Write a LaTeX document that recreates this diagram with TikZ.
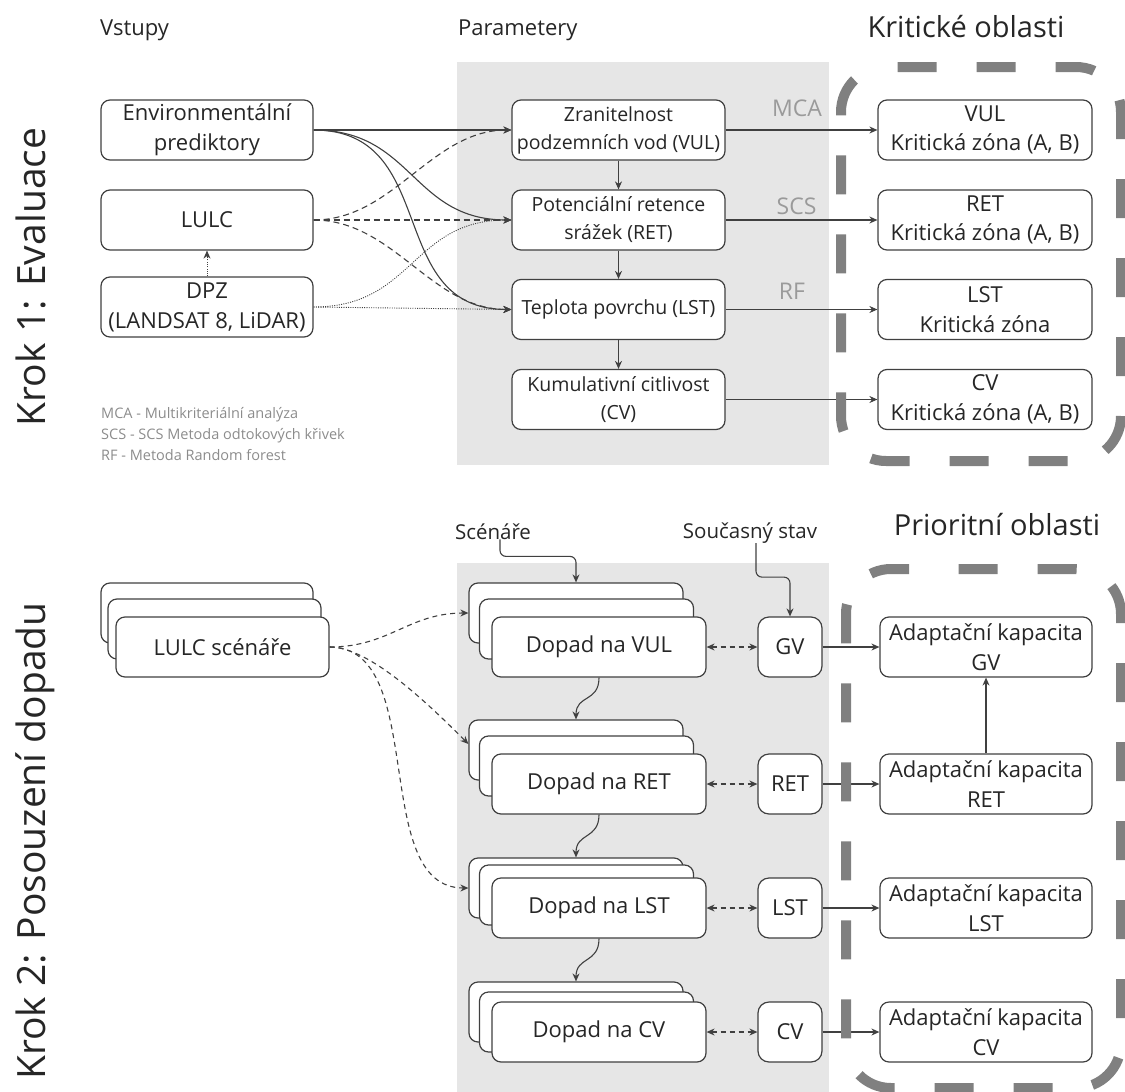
\documentclass[tikz,border=0pt]{standalone}
\usepackage{fontspec}
\setmainfont{Open Sans}
\usetikzlibrary{arrows.meta}
\definecolor{lc}{HTML}{404040}
\definecolor{tc}{HTML}{262626}
\definecolor{panel}{HTML}{E6E6E6}
\definecolor{regc}{HTML}{808080}
\definecolor{lblc}{HTML}{9A9A9A}
\definecolor{legc}{HTML}{8C8C8C}
\begin{document}
\begin{tikzpicture}[x=1pt,y=-1pt,
  box/.style={draw=lc, line width=1.2pt, rounded corners=9pt, fill=white, inner sep=0pt, align=center, text=tc, minimum height=60pt},
  bl/.style={box, minimum width=212pt, font=\fontsize{22}{30}\selectfont},
  bm/.style={box, minimum width=213pt, font=\fontsize{19.5}{28}\selectfont},
  br/.style={box, minimum width=214pt, font=\fontsize{22}{29.5}\selectfont},
  bs/.style={box, minimum width=214pt, font=\fontsize{22}{30}\selectfont},
  sm/.style={box, minimum width=64pt, rounded corners=11pt, font=\fontsize{22}{30}\selectfont},
  conn/.style={draw=lc, line width=1.1pt, -{Stealth[length=8pt,width=7pt]}},
  dsh/.style={conn, dash pattern=on 6pt off 4pt},
  dsh2/.style={conn, dash pattern=on 5pt off 4pt},
  dtt/.style={conn, line width=0.9pt, dash pattern=on 1pt off 1.3pt},
  dbl/.style={dsh2, {Stealth[length=8pt,width=7pt]}-{Stealth[length=8pt,width=7pt]}},
  ttl/.style={inner sep=0pt, text=tc, font=\fontsize{22}{26}\selectfont},
  sub/.style={inner sep=0pt, text=tc, font=\fontsize{20.5}{24}\selectfont},
  big/.style={inner sep=0pt, text=tc, font=\fontsize{29}{34}\selectfont},
  krok/.style={inner sep=0pt, text=tc, rotate=90, anchor=base, font=\fontsize{39}{44}\selectfont},
  mlbl/.style={inner sep=0pt, text=lblc, anchor=base, font=\fontsize{23}{26}\selectfont},
  leg/.style={inner sep=0pt, text=legc, anchor=base west, font=\fontsize{14.5}{18}\selectfont},
  region/.style={draw=regc, line width=10pt, dash pattern=on 39pt off 40pt, rounded corners=45pt}
]
\useasboundingbox (0,0) rectangle (1125,1092);

% panels
\fill[panel] (457,62) rectangle (829,465);
\fill[panel] (457,563) rectangle (829,1092);

% titles
\node[ttl, anchor=base west] (vstupy) at (100,35) {Vstupy};
\node[ttl, anchor=base west] (param) at (458,35) {Parametery};
\node[big, anchor=base] (krit) at (966,37) {Kritické oblasti};
\node[big, anchor=base] (prior) at (997,535) {Prioritní oblasti};
\node[krok] (krok1) at (45,277) {Krok 1: Evaluace};
\node[krok] (krok2) at (45,841) {Krok 2: Posouzení dopadu};

% legend
\node[leg] (leg1) at (101,418) {MCA - Multikriteriální analýza};
\node[leg] (leg2) at (101,439) {SCS - SCS Metoda odtokových křivek};
\node[leg] (leg3) at (101,460) {RF - Metoda Random forest};

% step 1 nodes
\node[bl] (env) at (207,130) {Environmentální\\prediktory};
\node[bl] (lulc) at (207,220) {LULC};
\node[bl, inner xsep=-3pt] (dpz) at (207,307) {DPZ\\(LANDSAT 8, LiDAR)};
\node[bm] (vul) at (618.5,130) {Zranitelnost\\podzemních vod (VUL)};
\node[bm] (ret) at (618.5,220) {Potenciální retence\\srážek (RET)};
\node[bm] (lst) at (618.5,309.5) {Teplota povrchu (LST)};
\node[bm] (cv) at (618.5,399.5) {Kumulativní citlivost\\(CV)};
\node[br] (vulk) at (985,130) {VUL\\Kritická zóna (A, B)};
\node[br] (retk) at (985,220) {RET\\Kritická zóna (A, B)};
\node[br] (lstk) at (985,309.5) {LST\\Kritická zóna};
\node[br] (cvk) at (985,399.5) {CV\\Kritická zóna (A, B)};

\node[mlbl] (mca) at (797,116.5) {MCA};
\node[mlbl] (scs) at (796.5,214) {SCS};
\node[mlbl] (rf) at (792,299) {RF};

% step 1 connectors
\draw[conn] (env.east) -- (vul.west);
\draw[conn] (env.east) .. controls +(100,0) and +(-100,0) .. (ret.west);
\draw[conn] (env.east) .. controls +(128,0) and +(-128,0) .. (lst.west);
\draw[dsh] (lulc.east) .. controls +(80,0) and +(-80,0) .. (vul.west);
\draw[dsh] (lulc.east) -- (ret.west);
\draw[dsh] (lulc.east) .. controls +(80,0) and +(-80,0) .. (lst.west);
\draw[dtt] (dpz.east) .. controls +(100,0) and +(-100,0) .. (ret.west);
\draw[dtt] (dpz.east) -- (lst.west);
\draw[dtt] (dpz.north) -- (lulc.south);
\draw[conn] (vul.south) -- (ret.north);
\draw[conn] (ret.south) -- (lst.north);
\draw[conn] (lst.south) -- (cv.north);
\draw[conn] (vul.east) -- (vulk.west);
\draw[conn] (ret.east) -- (retk.west);
\draw[conn] (lst.east) -- (lstk.west);
\draw[conn] (cv.east) -- (cvk.west);

% step 2 labels
\node[sub, anchor=base] (scen) at (493,539) {Scénáře};
\node[sub, anchor=base] (soucas) at (750,538) {Současný stav};

% step 2 stacks
\node[bs, minimum width=212pt] (lsb) at (207,613) {};
\node[bs, minimum width=213pt] (lsm) at (214.5,629) {};
\node[bs, minimum width=213pt] (lsf) at (222.5,647) {LULC scénáře};

\node[bs] (vulb) at (576,613) {};
\node[bs] (vulm) at (586.5,629) {};
\node[bs] (vulf) at (599,647) {Dopad na VUL};
\node[bs] (retb) at (576,750) {};
\node[bs] (retm) at (586.5,766) {};
\node[bs] (retf) at (599,784) {Dopad na RET};
\node[bs] (lstb) at (576,888) {};
\node[bs] (lstm) at (586.5,895) {};
\node[bs] (lstf) at (599,908) {Dopad na LST};
\node[bs] (cvb) at (576,1012) {};
\node[bs] (cvm) at (586.5,1022) {};
\node[bs] (cvf) at (599,1032) {Dopad na CV};

\node[sm] (gvs) at (790,647) {GV};
\node[sm] (rets) at (790,784) {RET};
\node[sm] (lsts) at (790,908) {LST};
\node[sm] (cvs) at (790,1032) {CV};

\node[bs, minimum width=212pt] (agv) at (986,647) {Adaptační kapacita\\GV};
\node[bs, minimum width=212pt] (aret) at (986,784) {Adaptační kapacita\\RET};
\node[bs, minimum width=212pt] (alst) at (986,908) {Adaptační kapacita\\LST};
\node[bs, minimum width=212pt] (acv) at (986,1032) {Adaptační kapacita\\CV};

% step 2 connectors
\draw[conn, rounded corners=6pt] ([xshift=7pt]scen.south) -- ++(0,17) -| (vulb.north);
\draw[conn, rounded corners=6pt] ([xshift=6pt]soucas.south) -- ++(0,34) -| (gvs.north);
\draw[dsh2] (lsf.east) .. controls +(60,0) and +(-60,0) .. (vulb.west);
\draw[dsh2] (lsf.east) .. controls +(40,0) and +(-40,-40) .. ([yshift=6pt]retb.west);
\draw[dsh2] (lsf.east) .. controls +(100,0) and +(-100,0) .. (lstb.west);
\draw[conn] (vulf.south) .. controls +(0,25) and +(0,-25) .. (retb.north);
\draw[conn] (retf.south) .. controls +(0,25) and +(0,-25) .. (lstb.north);
\draw[conn] (lstf.south) .. controls +(0,25) and +(0,-25) .. (cvb.north);
\draw[dbl] (vulf.east) -- (gvs.west);
\draw[dbl] (retf.east) -- (rets.west);
\draw[dbl] (lstf.east) -- (lsts.west);
\draw[dbl] (cvf.east) -- (cvs.west);
\draw[conn] (gvs.east) -- (agv.west);
\draw[conn] (rets.east) -- (aret.west);
\draw[conn] (lsts.east) -- (alst.west);
\draw[conn] (cvs.east) -- (acv.west);
\draw[conn] (aret.north) -- (agv.south);

% dashed regions
\draw[region, dash phase=42pt] (888,67) -- (841,67) -- (841,461) -- (1121,461) -- (1121,67) -- (888,67);
\draw[region, dash phase=39pt] (949,569) -- (846,569) -- (846,1088) -- (1121,1088) -- (1121,569) -- (949,569);
\end{tikzpicture}
\end{document}
